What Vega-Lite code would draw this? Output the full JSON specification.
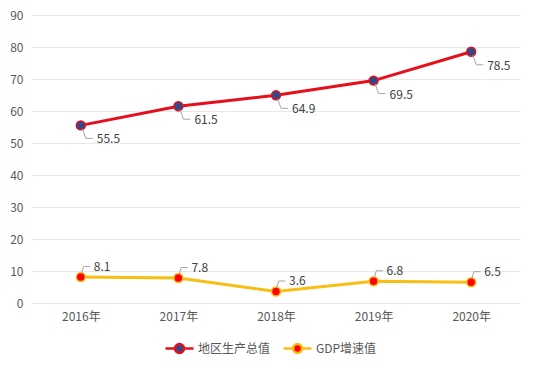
{
  "$schema": "https://vega.github.io/schema/vega-lite/v6.json",
  "width": 488,
  "height": 288,
  "autosize": "none",
  "padding": {"left": 32, "top": 15, "right": 15, "bottom": 66},
  "background": "#ffffff",
  "config": {
    "view": {"stroke": null},
    "font": "Noto Sans CJK SC",
    "axis": {"labelFont": "Noto Sans CJK SC", "labelFontSize": 12, "labelColor": "#595959", "titleFont": "Noto Sans CJK SC"},
    "legend": {"labelFont": "Noto Sans CJK SC", "labelFontSize": 12, "labelColor": "#595959"}
  },
  "data": {
    "values": [
      {"year": "2016年", "series": "地区生产总值", "value": 55.5},
      {"year": "2017年", "series": "地区生产总值", "value": 61.5},
      {"year": "2018年", "series": "地区生产总值", "value": 64.9},
      {"year": "2019年", "series": "地区生产总值", "value": 69.5},
      {"year": "2020年", "series": "地区生产总值", "value": 78.5},
      {"year": "2016年", "series": "GDP增速值", "value": 8.1},
      {"year": "2017年", "series": "GDP增速值", "value": 7.8},
      {"year": "2018年", "series": "GDP增速值", "value": 3.6},
      {"year": "2019年", "series": "GDP增速值", "value": 6.8},
      {"year": "2020年", "series": "GDP增速值", "value": 6.5}
    ]
  },
  "encoding": {
    "x": {
      "field": "year", "type": "ordinal", "title": null,
      "scale": {"type": "point", "padding": 0.5},
      "axis": {"labelAngle": 0, "domain": false, "ticks": false, "grid": false, "labelPadding": 8}
    },
    "y": {
      "field": "value", "type": "quantitative", "title": null,
      "scale": {"domain": [0, 90], "nice": false},
      "axis": {"values": [0, 10, 20, 30, 40, 50, 60, 70, 80, 90], "domain": false, "ticks": false, "gridColor": "#E8E8E8", "gridWidth": 1, "labelPadding": 9}
    }
  },
  "layer": [
    {
      "mark": {"type": "line", "strokeWidth": 3},
      "encoding": {
        "stroke": {
          "field": "series", "type": "nominal",
          "scale": {"domain": ["地区生产总值", "GDP增速值"], "range": ["#E5101B", "#F7BE14"]},
          "legend": {
            "title": null, "orient": "none", "direction": "horizontal",
            "legendX": 136, "legendY": 322,
            "symbolType": "M-1.4,0 L-0.45,0 M0.45,0 L1.4,0 M-0.45,0 A0.45,0.45 0 1,1 0.45,0 A0.45,0.45 0 1,1 -0.45,0 Z",
            "symbolSize": 400, "symbolStrokeWidth": 2.5, "labelOffset": 7, "columnPadding": 7,
            "encode": {
              "symbols": {
                "update": {
                  "fill": {"signal": "datum.value == '地区生产总值' ? '#2E4A8A' : '#FF0000'"},
                  "fillOpacity": {"value": 1},
                  "opacity": {"value": 1}
                }
              }
            }
          }
        }
      }
    },
    {
      "mark": {"type": "point", "filled": true, "size": 80, "strokeWidth": 1.5, "opacity": 1},
      "encoding": {
        "stroke": {"field": "series", "type": "nominal", "legend": null},
        "fill": {
          "field": "series", "type": "nominal", "legend": null,
          "scale": {"domain": ["地区生产总值", "GDP增速值"], "range": ["#2E4A8A", "#FF0000"]}
        }
      }
    },
    {
      "transform": [{"filter": "datum.series == '地区生产总值'"}],
      "mark": {"type": "point", "filled": false, "size": 400, "stroke": "#A6A6A6", "strokeWidth": 1, "opacity": 1,
        "shape": "M0.17,0.35 L0.5,1.3 L1.2,1.3"},
      "encoding": {}
    },
    {
      "transform": [{"filter": "datum.series == 'GDP增速值'"}],
      "mark": {"type": "point", "filled": false, "size": 400, "stroke": "#A6A6A6", "strokeWidth": 1, "opacity": 1,
        "shape": "M0.07,-0.35 L0.27,-1.05 L0.93,-1.05"},
      "encoding": {}
    },
    {
      "transform": [{"filter": "datum.series == '地区生产总值'"}],
      "mark": {"type": "text", "align": "left", "baseline": "middle", "dx": 16, "dy": 14, "fontSize": 12, "color": "#404040", "font": "Noto Sans CJK SC"},
      "encoding": {"text": {"field": "value", "type": "quantitative", "format": ".1f"}}
    },
    {
      "transform": [{"filter": "datum.series == 'GDP增速值'"}],
      "mark": {"type": "text", "align": "left", "baseline": "middle", "dx": 13, "dy": -10, "fontSize": 12, "color": "#404040", "font": "Noto Sans CJK SC"},
      "encoding": {"text": {"field": "value", "type": "quantitative", "format": ".1f"}}
    }
  ]
}
